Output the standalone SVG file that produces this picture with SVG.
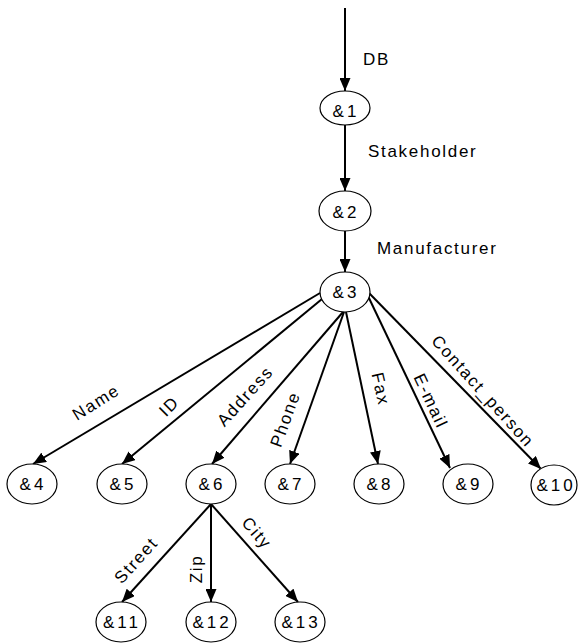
<svg xmlns="http://www.w3.org/2000/svg" width="578" height="643" viewBox="0 0 578 643">
  <style>
    text { font-family: "Liberation Sans", Arial, sans-serif; font-size: 17px; letter-spacing: 1.7px; fill: #000; }
    .node ellipse { fill: #fff; stroke: #000; stroke-width: 1.2; }
    .node text { text-anchor: middle; letter-spacing: 3px; }
    .edge { stroke: #000; stroke-width: 2; fill: none; marker-end: url(#arrow); }
    .lbl { text-anchor: middle; }
  </style>
  <defs>
    <marker id="arrow" markerUnits="userSpaceOnUse" markerWidth="13" markerHeight="11" refX="13" refY="5.5" orient="auto">
      <path d="M0,0 L13,5.5 L0,11 z" fill="#000"/>
    </marker>
  </defs>
  <rect width="578" height="643" fill="#fff"/>

  <g id="connectors">
    <line class="edge" x1="345" y1="8" x2="345" y2="91"/>
    <line class="edge" x1="345" y1="124" x2="345" y2="191"/>
    <line class="edge" x1="345" y1="231" x2="345" y2="272"/>
    <line class="edge" x1="320" y1="293" x2="33" y2="464"/>
    <line class="edge" x1="322" y1="299" x2="122" y2="464"/>
    <line class="edge" x1="343" y1="312" x2="212" y2="464"/>
    <line class="edge" x1="344" y1="312" x2="290" y2="464"/>
    <line class="edge" x1="346" y1="312" x2="378" y2="464"/>
    <line class="edge" x1="368" y1="296" x2="450" y2="468"/>
    <line class="edge" x1="369" y1="293" x2="541" y2="469"/>
    <line class="edge" x1="211" y1="504" x2="122" y2="602"/>
    <line class="edge" x1="211" y1="504" x2="211" y2="602"/>
    <line class="edge" x1="211" y1="504" x2="298" y2="602"/>
  </g>

  <g id="labels">
    <text x="363" y="65">DB</text>
    <text x="368" y="157">Stakeholder</text>
    <text x="377" y="254">Manufacturer</text>
    <text class="lbl" transform="translate(96,402) rotate(-32)" dy="6">Name</text>
    <text class="lbl" transform="translate(169,406) rotate(-45)" dy="6">ID</text>
    <text class="lbl" transform="translate(245,396) rotate(-48)" dy="6">Address</text>
    <text class="lbl" transform="translate(285,419) rotate(-70)" dy="6">Phone</text>
    <text class="lbl" transform="translate(381,389) rotate(77)" dy="6">Fax</text>
    <text class="lbl" transform="translate(431,401) rotate(65)" dy="6">E-mail</text>
    <text class="lbl" transform="translate(483,391) rotate(48)" dy="6">Contact_person</text>
    <text class="lbl" transform="translate(136,560) rotate(-48)" dy="6">Street</text>
    <text class="lbl" transform="translate(196,569) rotate(-90)" dy="6">Zip</text>
    <text class="lbl" transform="translate(257,533) rotate(49)" dy="6">City</text>
  </g>

  <g id="n1" class="node"><ellipse cx="345" cy="108" rx="25" ry="17"/><text x="346" y="117">&amp;1</text></g>
  <g id="n2" class="node"><ellipse cx="345" cy="211" rx="26" ry="20"/><text x="346" y="217.5">&amp;2</text></g>
  <g id="n3" class="node"><ellipse cx="345" cy="292" rx="25" ry="20"/><text x="346" y="298">&amp;3</text></g>
  <g id="n4" class="node"><ellipse cx="32" cy="484" rx="25" ry="20"/><text x="33" y="490">&amp;4</text></g>
  <g id="n5" class="node"><ellipse cx="122" cy="484" rx="25" ry="20"/><text x="123" y="490">&amp;5</text></g>
  <g id="n6" class="node"><ellipse cx="211" cy="484" rx="25" ry="20"/><text x="212" y="490">&amp;6</text></g>
  <g id="n7" class="node"><ellipse cx="290" cy="484" rx="25" ry="20"/><text x="291" y="490">&amp;7</text></g>
  <g id="n8" class="node"><ellipse cx="379" cy="484" rx="25" ry="20"/><text x="380" y="490">&amp;8</text></g>
  <g id="n9" class="node"><ellipse cx="468" cy="484" rx="25" ry="20"/><text x="469" y="490">&amp;9</text></g>
  <g id="n10" class="node"><ellipse cx="554" cy="485" rx="23" ry="20"/><text x="556" y="491">&amp;10</text></g>
  <g id="n11" class="node"><ellipse cx="121" cy="622" rx="25" ry="20"/><text x="122" y="628">&amp;11</text></g>
  <g id="n12" class="node"><ellipse cx="211" cy="622" rx="25" ry="20"/><text x="212" y="628">&amp;12</text></g>
  <g id="n13" class="node"><ellipse cx="300" cy="622" rx="25" ry="20"/><text x="301" y="628">&amp;13</text></g>
</svg>
